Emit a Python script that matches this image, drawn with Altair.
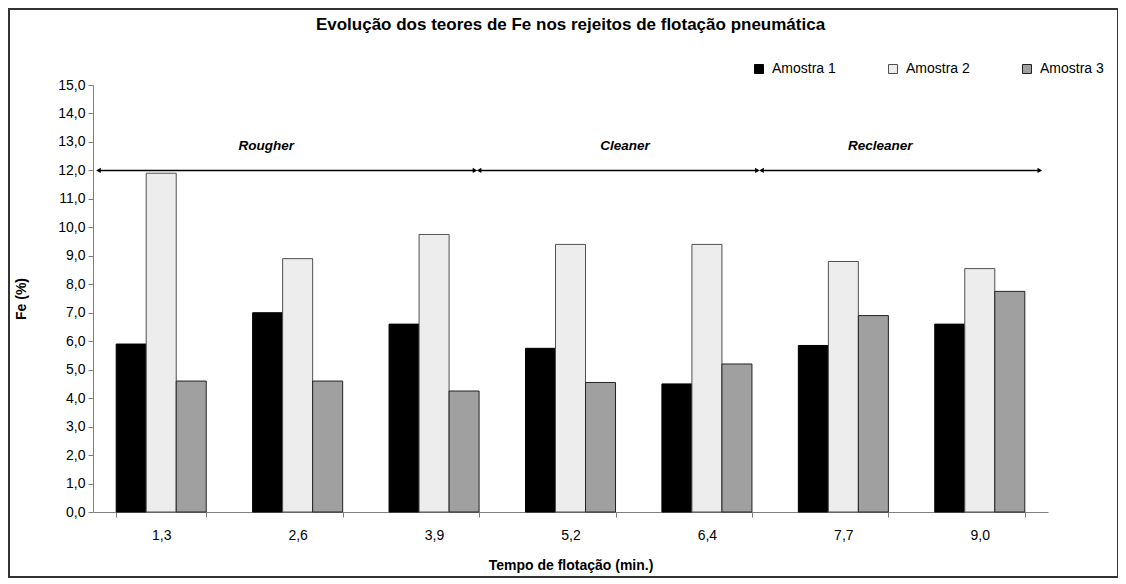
import altair as alt
import pandas as pd

categories = ["1,3", "2,6", "3,9", "5,2", "6,4", "7,7", "9,0"]
amostra1 = [5.9, 7.0, 6.6, 5.75, 4.5, 5.85, 6.6]
amostra2 = [11.9, 8.9, 9.75, 9.4, 9.4, 8.8, 8.55]
amostra3 = [4.6, 4.6, 4.25, 4.55, 5.2, 6.9, 7.75]
series = ["Amostra 1", "Amostra 2", "Amostra 3"]
y_ticks = [0, 1, 2, 3, 4, 5, 6, 7, 8, 9, 10, 11, 12, 13, 14, 15]

# stage annotations (in band units along the x axis)
stages = ["Rougher", "Cleaner", "Recleaner"]
stage_start = [0.04, 2.83, 4.9]
stage_end = [2.8, 4.87, 6.94]
stage_label_x = [1.27, 3.9, 5.77]
stage_level = 12.0

rows = []
for i, c in enumerate(categories):
    for s, vals in zip(series, [amostra1, amostra2, amostra3]):
        rows.append({"Tempo": c, "Amostra": s, "Fe": vals[i]})
df = pd.DataFrame(rows)

stage_df = pd.DataFrame({
    "stage": stages, "x0": stage_start, "x1": stage_end,
    "xl": stage_label_x, "y": [stage_level] * 3,
    "yl": [stage_level + 0.85] * 3,
})

FONT = "Liberation Sans"
W, H = 955, 427

yscale = alt.Scale(domain=[0, 15], nice=False)
yaxis = alt.Axis(title="Fe (%)", values=y_ticks,
                 labelExpr="replace(format(datum.value, '.1f'), '.', ',')",
                 tickSize=5, labelPadding=3, titlePadding=29, labelOverlap=False,
                 domainColor="#808080", tickColor="#808080", grid=False)

bars = alt.Chart(df).mark_bar(strokeWidth=1).encode(
    x=alt.X("Tempo:N", sort=categories,
            scale=alt.Scale(paddingInner=0.34, paddingOuter=0.17),
            axis=alt.Axis(title="Tempo de flotação (min.)", labelAngle=0,
                          tickBand="extent", tickSize=5, labelPadding=11,
                          titlePadding=16, domainColor="#808080",
                          tickColor="#808080")),
    xOffset=alt.XOffset("Amostra:N", sort=series,
                        scale=alt.Scale(paddingInner=0, paddingOuter=0)),
    y=alt.Y("Fe:Q", scale=yscale, axis=yaxis),
    fill=alt.Fill("Amostra:N", sort=series,
                  scale=alt.Scale(domain=series, range=["#000000", "#ededed", "#a0a0a0"]),
                  legend=alt.Legend(title=None, orient="none", direction="horizontal",
                                    legendX=659, legendY=-23, symbolType="square",
                                    symbolSize=81, symbolStrokeColor="#333333",
                                    symbolStrokeWidth=1, columnPadding=50,
                                    labelFontSize=14, labelFont=FONT, labelOffset=6)),
    stroke=alt.Stroke("Amostra:N", sort=series,
                      scale=alt.Scale(domain=series, range=["#000000", "#505050", "#222222"]),
                      legend=None),
)

xq = alt.X("x0:Q", scale=alt.Scale(domain=[0, 7], nice=False), axis=None)
yq = alt.Y("y:Q", scale=yscale, axis=yaxis)

rules = alt.Chart(stage_df).mark_rule(color="#000000", strokeWidth=1.5).encode(
    x=xq, x2="x1:Q", y=yq)
left_heads = alt.Chart(stage_df).mark_point(shape="triangle-left", filled=True,
                                            color="#000000", size=28, opacity=1).encode(
    x=xq, y=yq)
right_heads = alt.Chart(stage_df).mark_point(shape="triangle-right", filled=True,
                                             color="#000000", size=28, opacity=1).encode(
    x=alt.X("x1:Q", scale=alt.Scale(domain=[0, 7], nice=False), axis=None),
    y=yq)
labels = alt.Chart(stage_df).mark_text(font=FONT, fontSize=13.5, fontWeight="bold",
                                       fontStyle="italic", color="#000000").encode(
    x=alt.X("xl:Q", scale=alt.Scale(domain=[0, 7], nice=False), axis=None),
    y=alt.Y("yl:Q", scale=yscale, axis=yaxis),
    text="stage:N")

border = alt.Chart(alt.Data(values=[{}])).mark_rect(
    fill=None, stroke="#333333", strokeWidth=2, clip=False).encode(
    x=alt.value(-84), x2=alt.value(1025), y=alt.value(-76), y2=alt.value(492))

annot = alt.layer(rules, left_heads, right_heads, labels)

chart = alt.layer(border, bars, annot).resolve_scale(x="independent").properties(
    width=W, height=H,
    autosize=alt.AutoSizeParams(type="none"),
    padding={"left": 85, "top": 77, "right": 70, "bottom": 67},
    title=alt.TitleParams("Evolução dos teores de Fe nos rejeitos de flotação pneumática",
                          font=FONT, fontSize=17, fontWeight="bold", color="#000000",
                          anchor="middle", frame="group", offset=-26),
).configure_view(stroke=None).configure_axis(
    labelFont=FONT, labelFontSize=14, labelColor="#000000",
    titleFont=FONT, titleFontSize=14, titleFontWeight="bold", titleColor="#000000",
    grid=False,
).configure_legend(labelColor="#000000")

chart.save("out.html", embed_options={"renderer": "svg", "actions": False})
